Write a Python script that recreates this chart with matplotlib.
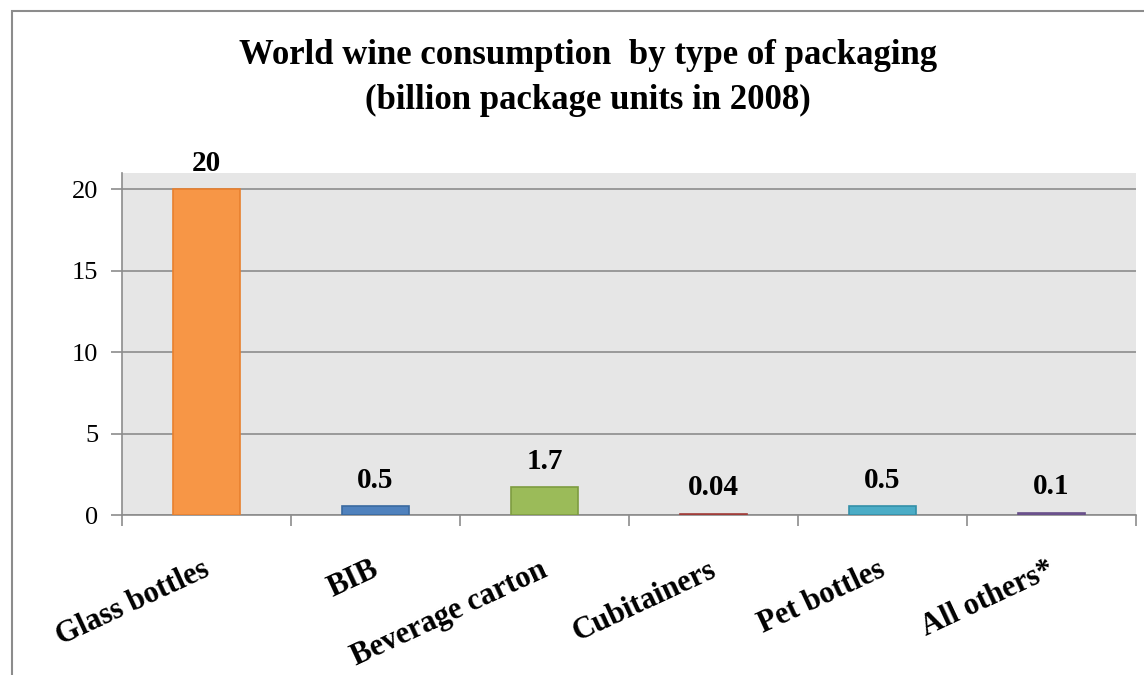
import numpy as np
import matplotlib.pyplot as plt
from matplotlib.patches import Rectangle

categories = ["Glass bottles", "BIB", "Beverage carton", "Cubitainers", "Pet bottles", "All others*"]
values = [20, 0.5, 1.7, 0.04, 0.5, 0.1]
# bar heights as drawn in the picture (labels above show the rounded values)
heights = [20, 0.55, 1.7, 0.08, 0.55, 0.15]
value_labels = ["20", "0.5", "1.7", "0.04", "0.5", "0.1"]
yticks = [0, 5, 10, 15, 20]

fills = ["#F79646", "#4F81BD", "#9BBB59", "#C0504D", "#4BACC6", "#8064A2"]
edges = ["#E8802E", "#3A6AA0", "#7E9C40", "#A03C39", "#3490A8", "#664E88"]

plt.rcParams["font.family"] = ["Liberation Serif", "DejaVu Serif"]

fig = plt.figure(figsize=(11.44, 6.75), dpi=100)
W, H = 1144, 675
ax = fig.add_axes([122 / W, 1 - 515 / H, (1136 - 122) / W, (515 - 173) / H])

# outer chart border
fig.patches.append(Rectangle((12 / W, -0.01), 1.05, 1 - 11 / H + 0.01,
                             transform=fig.transFigure, fill=False,
                             edgecolor="#8c8c8c", linewidth=1.5))

x = np.arange(len(categories))
ax.bar(x, heights, width=0.4, color=fills, edgecolor=edges, linewidth=1.2, zorder=3)

for xi, v, lab in zip(x, heights, value_labels):
    ax.annotate(lab, (xi, v), xytext=(0, 9), textcoords="offset points",
                ha="center", va="bottom", fontsize=21, fontweight="bold")

ax.set_facecolor("#E6E6E6")
ax.set_xlim(-0.5, len(categories) - 0.5)
ax.set_ylim(0, 21)
ax.set_yticks(yticks)
ax.set_yticklabels([str(t) for t in yticks], fontsize=19)
ax.grid(axis="y", color="#8c8c8c", linewidth=1.2, zorder=1)
ax.set_axisbelow(True)

ax.set_xticks(x - 0.03)
ax.set_xticklabels(categories, rotation=25, ha="right", va="top",
                   rotation_mode="anchor", fontsize=22, fontweight="bold")
ax.tick_params(axis="x", which="major", length=0, pad=29)
ax.set_xticks(np.arange(len(categories) + 1) - 0.5, minor=True)
ax.tick_params(axis="x", which="minor", length=8, color="#8c8c8c", width=1.2)
ax.tick_params(axis="y", length=8, color="#8c8c8c", width=1.2, pad=9)

for s in ["top", "right"]:
    ax.spines[s].set_visible(False)
for s in ["left", "bottom"]:
    ax.spines[s].set_color("#8c8c8c")
    ax.spines[s].set_linewidth(1.2)

fig.text(588 / W, 1 - 78 / H, "World wine consumption  by type of packaging\n(billion package units in 2008)",
         ha="center", va="center", fontsize=25, fontweight="bold", linespacing=1.45)

fig.savefig("out.png", dpi=100)
